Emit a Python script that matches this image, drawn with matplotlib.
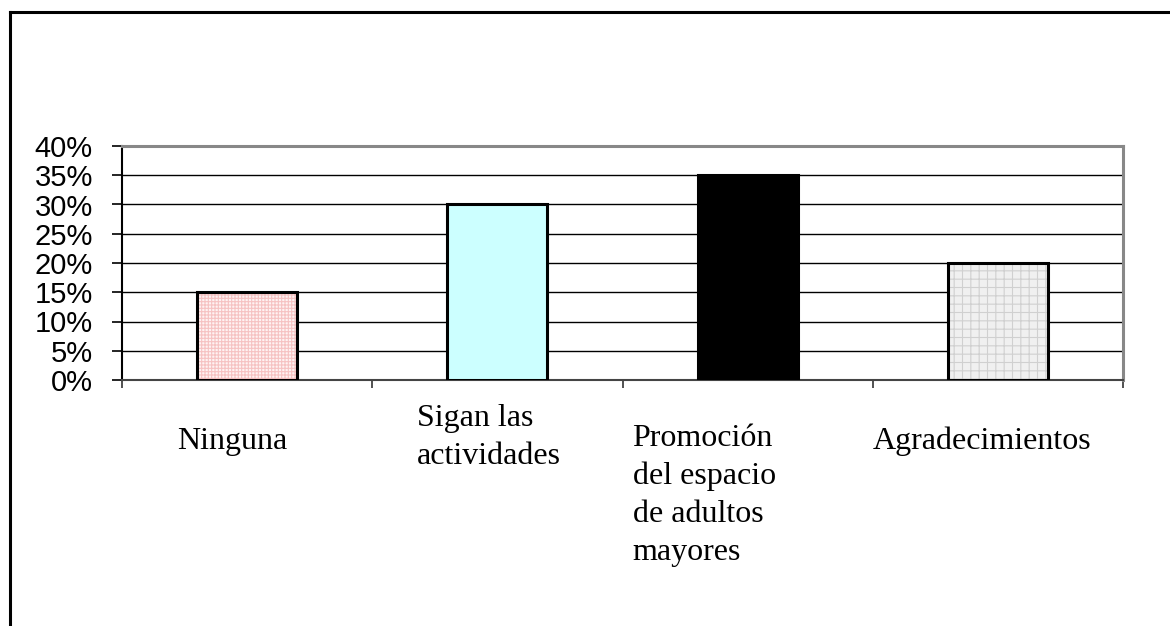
import numpy as np
import matplotlib
matplotlib.use("Agg")
import matplotlib.pyplot as plt
from matplotlib.lines import Line2D
from matplotlib.ticker import FuncFormatter, MultipleLocator

categorias = ["Ninguna", "Sigan las\nactividades",
              "Promoción\ndel espacio\nde adultos\nmayores", "Agradecimientos"]
porcentajes = [15, 30, 35, 20]
ticks_y = [0, 5, 10, 15, 20, 25, 30, 35, 40]

# estilos de cada barra: relleno, color de la trama, trama
rellenos = ["#fff2f2", "#ccffff", "#000000", "#f0f0f0"]
tramas_color = ["#f6c2c2", None, None, "#d0d0d0"]
tramas = ["+++++", None, None, "++"]

# desplazamiento de cada etiqueta (x en unidades de categoria, y en ejes)
etiq_dx = [-0.28, -0.32, -0.46, -0.50]
etiq_y = [-0.201, -0.103, -0.188, -0.197]

W, H = 1170, 626
fig = plt.figure(figsize=(W / 100, H / 100), dpi=100)
ax = fig.add_axes([122 / W, 1 - 380 / H, (1123 - 122) / W, (380 - 146) / H])

x = np.arange(len(categorias))
plt.rcParams["hatch.linewidth"] = 0.8
for i in range(len(x)):
    if tramas[i]:
        ax.bar(x[i], porcentajes[i], width=0.4, color=rellenos[i],
               edgecolor=tramas_color[i], hatch=tramas[i], linewidth=0, zorder=3)
        ax.bar(x[i], porcentajes[i], width=0.4, color="none",
               edgecolor="black", linewidth=2.2, zorder=4)
    else:
        ax.bar(x[i], porcentajes[i], width=0.4, color=rellenos[i],
               edgecolor="black", linewidth=2.2, zorder=3)

ax.set_xlim(-0.5, len(x) - 0.5)
ax.set_ylim(0, 40)
ax.set_yticks(ticks_y)
ax.yaxis.set_major_formatter(FuncFormatter(lambda v, p: f"{v:.0f}%"))
ax.grid(axis="y", color="black", linewidth=1.0, zorder=1)

ax.set_xticks([])
ax.xaxis.set_minor_locator(MultipleLocator(1, offset=0.5))
ax.tick_params(axis="x", which="minor", length=6, width=1.2, color="#333333")
ax.tick_params(axis="y", length=7, width=1.2, pad=14, labelsize=21)
for lab in ax.get_yticklabels():
    lab.set_fontfamily("Liberation Sans")

ax.spines["left"].set_linewidth(1.5)
ax.spines["left"].set_color("black")
ax.spines["bottom"].set_linewidth(1.5)
ax.spines["bottom"].set_color("#444444")
ax.spines["top"].set_linewidth(2.2)
ax.spines["top"].set_color("#888888")
ax.spines["right"].set_linewidth(2.2)
ax.spines["right"].set_color("#888888")

trans = ax.get_xaxis_transform()
for i, nombre in enumerate(categorias):
    ax.text(x[i] + etiq_dx[i], etiq_y[i], nombre, transform=trans,
            ha="left", va="top", fontsize=23, family="Liberation Serif",
            linespacing=1.4)

# marco exterior del grafico
fig.add_artist(Line2D([10 / W, 1.0], [1 - 12 / H, 1 - 12 / H],
                      transform=fig.transFigure, color="black", linewidth=2.2))
fig.add_artist(Line2D([10 / W, 10 / W], [1 - 12 / H, 0.0],
                      transform=fig.transFigure, color="black", linewidth=2.2))

fig.savefig("out.png", dpi=100)
